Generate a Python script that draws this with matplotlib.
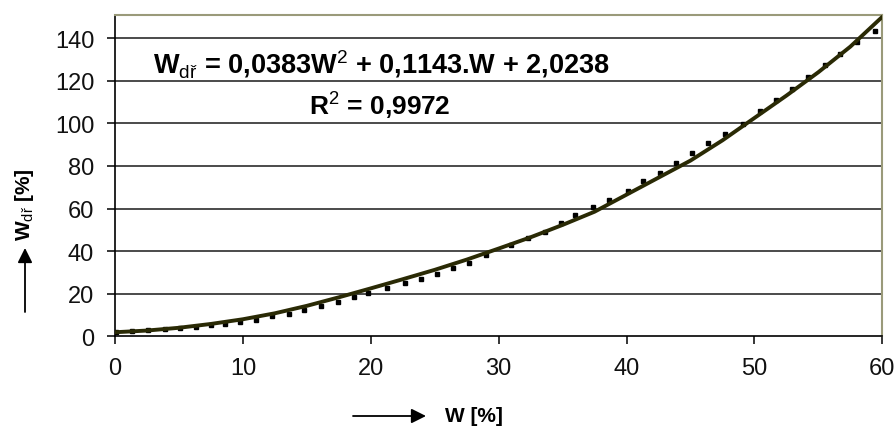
import matplotlib
matplotlib.use("Agg")
import matplotlib.pyplot as plt

# -----------------------------
# DATA
# -----------------------------
w_meas = [0.1, 1.3, 2.6, 3.9, 5.1, 6.3, 7.5, 8.6, 9.8, 11.0, 12.3, 13.6, 14.8,
          16.1, 17.4, 18.7, 19.8, 21.3, 22.7, 23.9, 25.2, 26.4, 27.7, 29.0,
          31.0, 32.3, 33.6, 34.9, 36.0, 37.4, 38.6, 40.1, 41.3, 42.6, 43.9,
          45.1, 46.4, 47.7, 49.1, 50.4, 51.7, 52.9, 54.2, 55.5, 56.7, 58.0, 59.4]
wdr_meas = [2.2, 2.6, 3.0, 3.4, 3.9, 4.4, 5.1, 5.9, 6.7, 7.7, 9.5, 10.6, 12.2,
            14.2, 16.3, 18.5, 20.5, 22.5, 24.9, 26.8, 29.4, 32.2, 34.6, 38.0,
            43.0, 46.3, 49.2, 53.0, 57.0, 60.7, 64.0, 68.2, 73.0, 76.8, 81.2,
            86.0, 90.6, 94.8, 99.5, 105.8, 111.0, 116.0, 121.7, 127.4, 132.7, 138.4, 143.3]

# trend line as drawn in the chart
trend_w = [0, 2.5, 5, 7.5, 10, 12.5, 15, 17.5, 20, 22.5, 25, 27.5, 30, 32.5,
           35, 37.5, 40, 42.5, 45, 47.5, 50, 52.5, 55, 57.5, 60]
trend_v = [1.9, 2.7, 4.0, 5.8, 8.0, 10.8, 14.3, 18.3, 22.5, 26.8, 31.2, 36.0,
           41.2, 46.5, 52.3, 58.5, 66.5, 74.5, 82.5, 92.0, 102.5, 113.0, 124.0,
           136.0, 150.0]

x_ticks = [0, 10, 20, 30, 40, 50, 60]
y_ticks = [0, 20, 40, 60, 80, 100, 120, 140]

EQ_TEXT = r"W$_{\mathrm{dř}}$ = 0,0383W$^{\mathrm{2}}$ + 0,1143.W + 2,0238"
R2_TEXT = r"R$^{\mathrm{2}}$ = 0,9972"
X_LABEL = "W [%]"
Y_LABEL = r"W$_{\mathrm{dř}}$ [%]"

# -----------------------------
# STYLE
# -----------------------------
plt.rcParams["font.family"] = ["Liberation Sans", "DejaVu Sans"]
plt.rcParams["mathtext.fontset"] = "custom"
plt.rcParams["mathtext.rm"] = "Liberation Sans"
plt.rcParams["mathtext.bf"] = "Liberation Sans:bold"

W_PX, H_PX = 896, 435
fig = plt.figure(figsize=(W_PX / 100, H_PX / 100), dpi=100)
ax = fig.add_axes([115 / W_PX, 1 - 337.3 / H_PX,
                   (882.3 - 115) / W_PX, (337.3 - 15.7) / H_PX])

# gridlines
for v in y_ticks[1:]:
    ax.axhline(v, color="#1a1a1a", lw=1.1, zorder=1)

ax.plot(w_meas, wdr_meas, linestyle="none", marker="s", ms=3.2,
        color="black", zorder=2)
ax.plot(trend_w, trend_v, color="#2a2a05", lw=2.8, solid_joinstyle="round",
        solid_capstyle="round", zorder=3)

ax.set_xlim(0, 60)
ax.set_ylim(0, 151)
ax.set_xticks(x_ticks)
ax.set_yticks(y_ticks)
ax.tick_params(axis="both", direction="out", length=6, width=1.1,
               colors="black", labelsize=17, labelcolor="#111111")
ax.tick_params(axis="y", pad=9)
ax.tick_params(axis="x", pad=9)

for side in ["left", "bottom"]:
    ax.spines[side].set_color("black")
    ax.spines[side].set_linewidth(1.2)
for side in ["top", "right"]:
    ax.spines[side].set_color("#9a9a7a")
    ax.spines[side].set_linewidth(1.5)

# equation + R^2
ax.text(3.0, 128.4, EQ_TEXT, fontsize=19.5, fontweight="bold",
        ha="left", va="center")
ax.text(20.7, 109.0, R2_TEXT, fontsize=19, fontweight="bold",
        ha="center", va="center")

# axis labels with arrows (figure pixel coords)
fig.text(445 / W_PX, 18 / H_PX, X_LABEL, fontsize=15, fontweight="bold",
         ha="left", va="center")
fig.text(24 / W_PX, 230 / H_PX, Y_LABEL, fontsize=15, fontweight="bold",
         ha="center", va="center", rotation=90)

arrow = dict(arrowstyle="-|>", color="black", lw=1.3, mutation_scale=22,
             shrinkA=0, shrinkB=0)
ax.annotate("", xy=(426, 18), xytext=(353, 18), xycoords="figure pixels",
            textcoords="figure pixels", arrowprops=arrow, annotation_clip=False)
ax.annotate("", xy=(25, 186), xytext=(25, 122), xycoords="figure pixels",
            textcoords="figure pixels", arrowprops=arrow, annotation_clip=False)

fig.savefig("out.png", dpi=100)
